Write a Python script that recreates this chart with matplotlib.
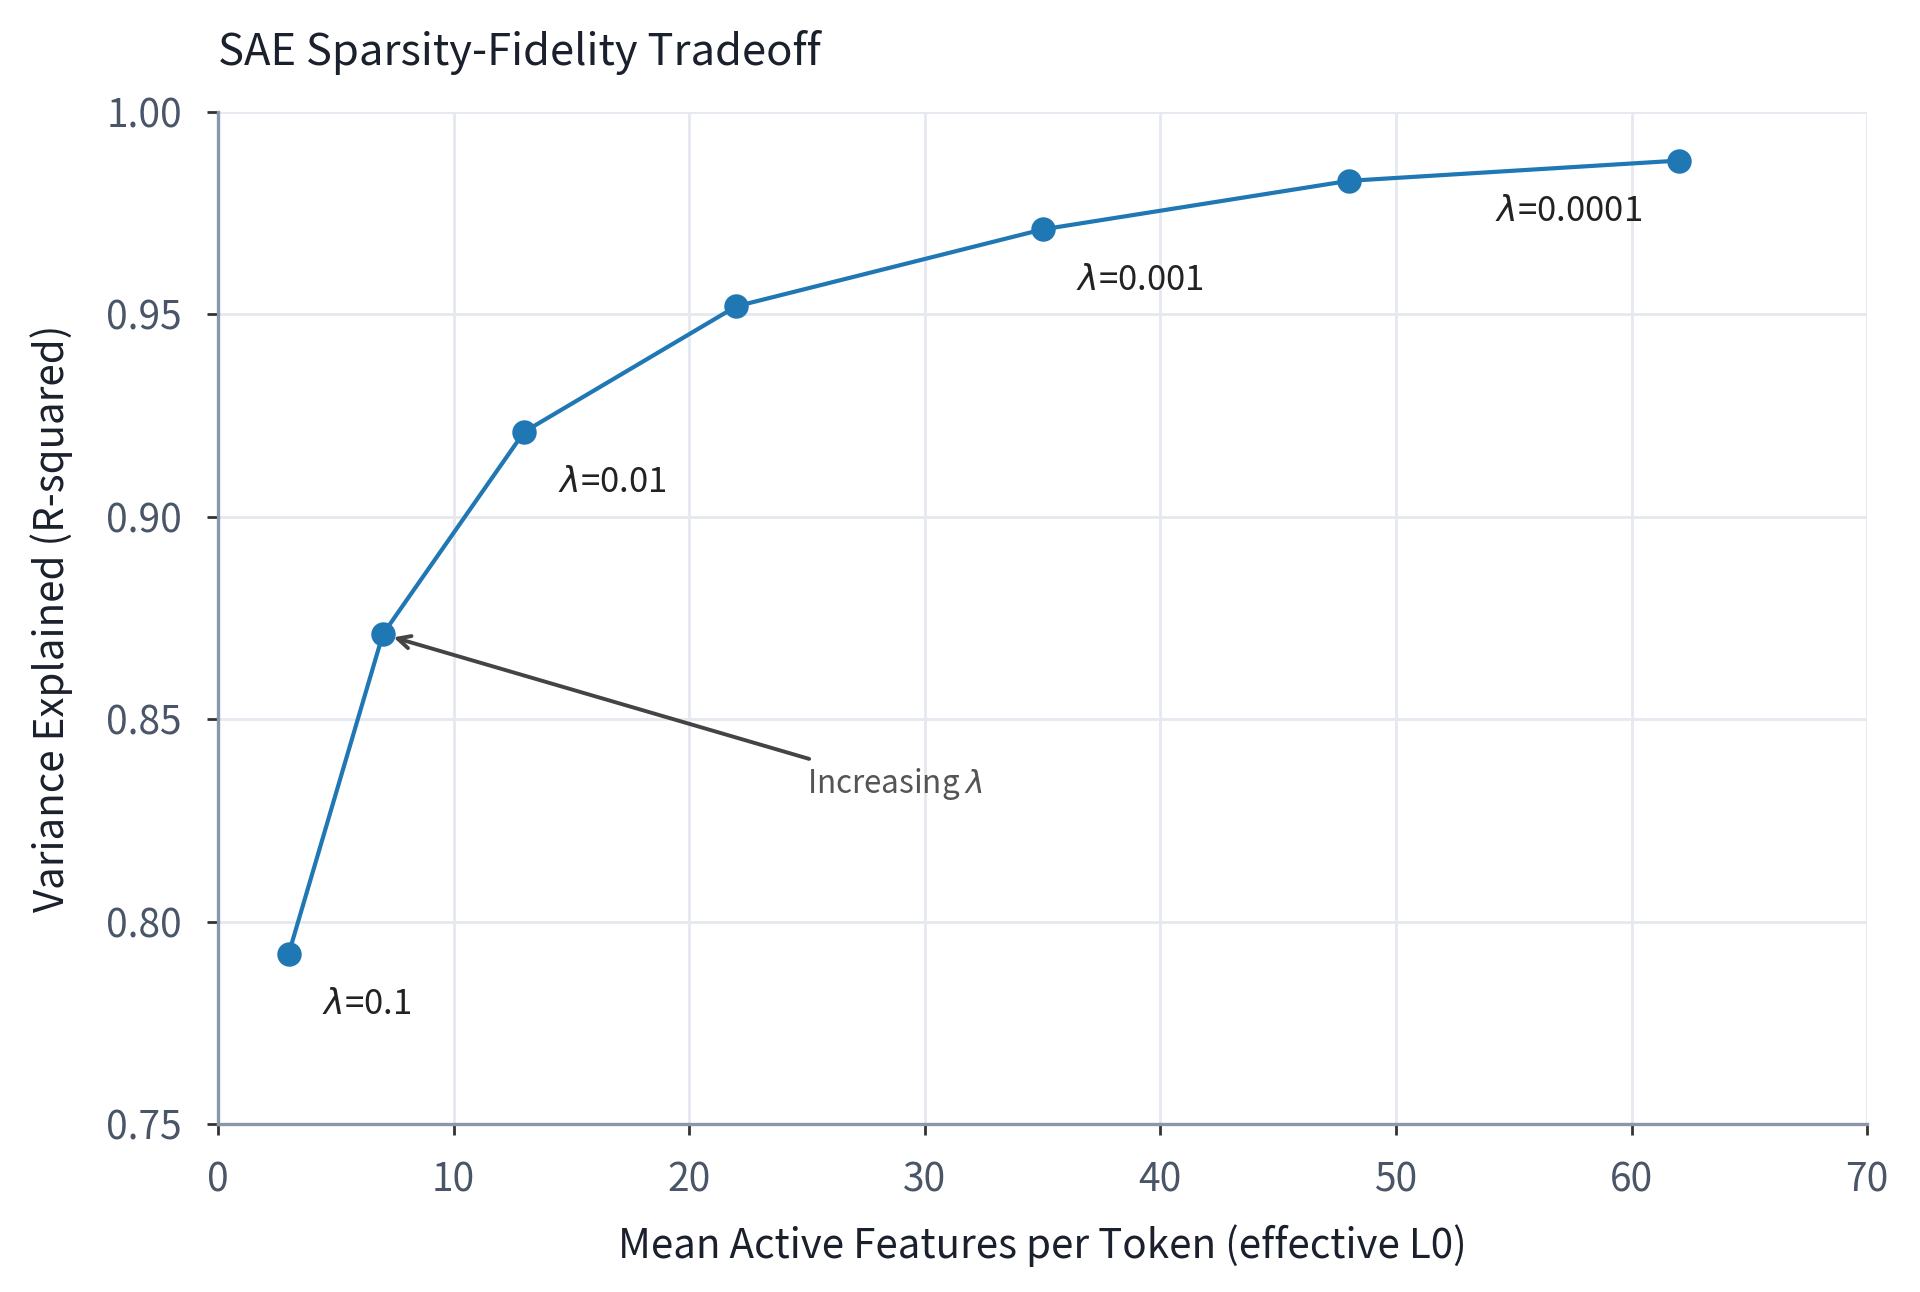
import matplotlib.pyplot as plt

# L0 vs R^2 for the lambda sweep
l0 = [3, 7, 13, 22, 35, 48, 62]
r2 = [0.792, 0.871, 0.921, 0.952, 0.971, 0.983, 0.988]

# which points get a lambda label
label_idx = [0, 2, 4, 6]
label_txt = ["0.1", "0.01", "0.001", "0.0001"]

plt.rcParams["font.family"] = ["Noto Sans CJK KR", "DejaVu Sans"]
plt.rcParams["mathtext.fontset"] = "dejavusans"

fig = plt.figure(figsize=(9.6, 6.46), dpi=200)
ax = fig.add_axes([0.1135, 0.1300, 0.8590, 0.7833])

ax.plot(l0, r2, color="#1f77b4", lw=1.5, marker="o", ms=7.8, zorder=3)

for i, t in zip(label_idx, label_txt):
    if i == label_idx[-1]:
        off, ha = (-13, -12), "right"
    else:
        off, ha = (12, -12), "left"
    ax.annotate(r"$\lambda$=" + t, (l0[i], r2[i]), xytext=off,
                textcoords="offset points", ha=ha, va="top",
                fontsize=12.5, color="#222222")

ax.annotate(r"Increasing $\lambda$", xy=(l0[1], r2[1]), xytext=(25.0, 0.834),
            ha="left", va="center", fontsize=11.3, color="#555555",
            arrowprops=dict(arrowstyle="->", color="#444444", lw=1.4,
                            shrinkB=4))

ax.set_xlim(0, 70)
ax.set_ylim(0.75, 1.0)
ax.set_xticks(range(0, 71, 10))
ax.set_yticks([0.75, 0.80, 0.85, 0.90, 0.95, 1.00])
ax.yaxis.set_major_formatter(plt.FormatStrFormatter("%.2f"))

ax.grid(True, color="#e5e8ef", lw=1.0)
ax.set_axisbelow(True)
for s in ["top", "right"]:
    ax.spines[s].set_visible(False)
for s in ["left", "bottom"]:
    ax.spines[s].set_color("#8a97ab")
    ax.spines[s].set_linewidth(1.2)
ax.tick_params(colors="#333333", labelcolor="#4a5568", labelsize=14,
               length=4, width=1.0)
ax.tick_params(axis="y", pad=9)
ax.tick_params(axis="x", pad=9)

ax.set_xlabel("Mean Active Features per Token (effective L0)", fontsize=14.5,
              color="#1a202c", labelpad=8.5)
ax.set_ylabel("Variance Explained (R-squared)", fontsize=14.5,
              color="#1a202c", labelpad=12)
ax.set_title("SAE Sparsity-Fidelity Tradeoff", fontsize=15.7, loc="left",
             color="#1a202c", pad=17)

fig.savefig("out.png", dpi=200, facecolor="white")
